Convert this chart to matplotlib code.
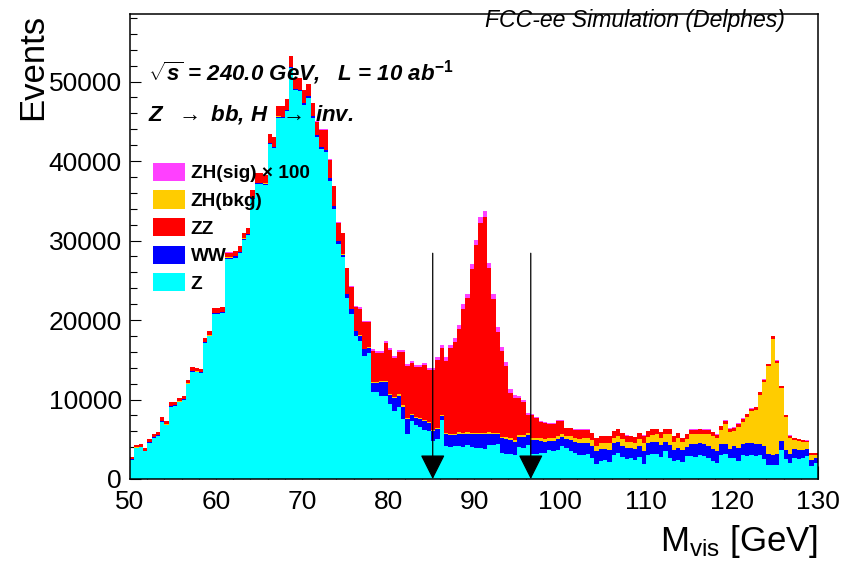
import numpy as np
import matplotlib
matplotlib.use("Agg")
import matplotlib.pyplot as plt
from matplotlib.patches import FancyArrowPatch, Patch
from matplotlib.ticker import MultipleLocator

plt.rcParams['font.family'] = ['Liberation Sans', 'DejaVu Sans']
plt.rcParams['mathtext.fontset'] = 'custom'
plt.rcParams['mathtext.rm'] = 'Liberation Sans:bold'
plt.rcParams['mathtext.it'] = 'Liberation Sans:italic:bold'
plt.rcParams['mathtext.bf'] = 'Liberation Sans:bold'
plt.rcParams['mathtext.sf'] = 'Liberation Sans'

# ---------------- data (0.5 GeV bins from 50 to 130 GeV) ----------------
bin_lo, bin_hi, bin_w = 50.0, 130.0, 0.5

z_bkg = [
    2420, 3870, 3970, 3470, 4550, 5220, 5420, 7220, 6770, 9120,
    9170, 9670, 9950, 11920, 13470, 13420, 13320, 17170, 17970, 20820,
    20750, 20850, 27700, 27700, 27850, 28400, 30100, 30650, 35200, 37100,
    37100, 37000, 42100, 41600, 45450, 45400, 46300, 51700, 48900, 48800,
    47080, 47880, 45380, 42980, 41480, 41080, 37480, 33980, 29580, 27880,
    22810, 20790, 18000, 17400, 15500, 15800, 10900, 10900, 10500, 10400,
    9400, 8600, 9000, 7500, 5600, 7300, 6800, 6500, 6200, 6000,
    4800, 5000, 7400, 4100, 4000, 4100, 4200, 4000, 4300, 4000,
    3900, 3900, 3800, 4300, 4300, 4400, 3300, 3200, 3100, 3000,
    4000, 3900, 4300, 3100, 3200, 3300, 3300, 3700, 3500, 3600,
    4100, 3900, 3500, 3300, 3000, 3000, 3100, 2700, 1900, 2300,
    2400, 2200, 3000, 3300, 2800, 2500, 2600, 2400, 2800, 1900,
    3000, 3100, 3200, 2800, 3500, 2700, 2300, 2400, 2100, 2900,
    2900, 2800, 3000, 2900, 2700, 2300, 2000, 3000, 3100, 2600,
    2700, 2300, 3000, 2900, 3000, 2900, 3000, 2500, 1800, 1700,
    1800, 3700, 2500, 2000, 2700, 2500, 2600, 2900, 1600, 2000,
]

ww_bkg = [
    80, 80, 80, 80, 80, 80, 80, 80, 80, 80,
    80, 80, 80, 80, 80, 80, 80, 80, 80, 80,
    150, 150, 150, 150, 150, 150, 150, 150, 150, 150,
    150, 150, 150, 150, 150, 150, 150, 150, 150, 150,
    250, 250, 250, 250, 250, 250, 350, 350, 350, 350,
    450, 550, 600, 650, 800, 700, 1200, 1200, 1700, 1800,
    1200, 1600, 1500, 1600, 1900, 700, 900, 1000, 1100, 1000,
    1200, 1300, 500, 1500, 1500, 1400, 1500, 1600, 1400, 1600,
    1700, 1700, 1800, 1400, 1300, 1200, 1800, 1800, 1800, 1700,
    1300, 1400, 1200, 1800, 1700, 1500, 1400, 1100, 1300, 1400,
    1200, 1100, 1400, 1300, 1500, 1500, 1400, 1500, 1600, 1500,
    1400, 1500, 1500, 1400, 1400, 1400, 1300, 1400, 1300, 1600,
    1500, 1500, 1500, 1500, 1100, 1600, 1400, 1500, 1500, 1100,
    1500, 1600, 1500, 1500, 1500, 1500, 1500, 1400, 1300, 1200,
    1500, 1600, 1400, 1600, 1500, 1500, 1400, 1600, 1400, 1300,
    1300, 1100, 1100, 1100, 1100, 1200, 1100, 900, 800, 600,
]

zh_bkg = [
    30, 30, 30, 30, 30, 30, 30, 30, 30, 30,
    30, 30, 30, 30, 30, 30, 30, 30, 30, 30,
    30, 30, 30, 30, 30, 30, 30, 30, 30, 30,
    30, 30, 30, 30, 30, 30, 30, 30, 30, 30,
    30, 30, 30, 30, 30, 30, 30, 30, 30, 30,
    40, 40, 50, 50, 60, 60, 150, 150, 150, 150,
    150, 150, 150, 150, 150, 150, 150, 150, 150, 150,
    150, 150, 150, 150, 150, 200, 200, 200, 200, 200,
    200, 200, 200, 200, 200, 200, 200, 250, 250, 250,
    250, 250, 250, 250, 300, 300, 300, 300, 350, 350,
    400, 400, 450, 500, 550, 600, 650, 700, 700, 750,
    750, 800, 700, 750, 800, 800, 750, 750, 900, 1000,
    800, 900, 900, 900, 1000, 1300, 1000, 1300, 1000, 1000,
    1200, 1200, 1200, 1300, 1500, 1600, 1600, 1800, 2500, 2100,
    1900, 2700, 2800, 3300, 4000, 4300, 6200, 8100, 11000, 14600,
    11500, 6600, 4150, 2100, 1100, 1050, 950, 800, 650, 450,
]

zz_bkg = [
    250, 300, 300, 300, 320, 350, 350, 450, 400, 450,
    400, 400, 420, 450, 500, 450, 450, 500, 500, 550,
    550, 550, 600, 600, 650, 700, 700, 750, 1000, 1200,
    1200, 1100, 1100, 1200, 1250, 1300, 1300, 1300, 1400, 1500,
    1600, 1500, 1600, 1700, 2200, 2600, 2300, 2500, 2300, 2700,
    3200, 2800, 3000, 3300, 3340, 3140, 3850, 3650, 3550, 4700,
    5500, 4900, 5300, 6700, 6600, 6500, 6200, 6400, 6850, 6550,
    7550, 8500, 8450, 9150, 10800, 11550, 13000, 15650, 16850, 20600,
    23650, 26400, 27200, 20650, 16900, 12750, 10750, 8950, 5700, 5250,
    4600, 4150, 2300, 2850, 2450, 2050, 2030, 1850, 1800, 1970,
    1620, 1000, 1050, 1110, 1160, 1120, 1070, 920, 970, 870,
    870, 920, 820, 870, 820, 770, 720, 720, 820, 970,
    720, 770, 720, 670, 720, 720, 670, 620, 570, 620,
    620, 620, 570, 520, 520, 470, 490, 440, 450, 440,
    370, 370, 400, 390, 360, 330, 360, 310, 280, 360,
    300, 270, 270, 270, 220, 220, 220, 220, 230, 230,
]

zh_sig_x100 = [
    20, 20, 20, 20, 20, 20, 20, 20, 20, 20,
    20, 20, 20, 20, 20, 20, 20, 20, 20, 20,
    20, 20, 20, 20, 20, 20, 20, 20, 20, 20,
    20, 20, 20, 20, 20, 20, 20, 20, 20, 20,
    40, 40, 40, 40, 40, 40, 40, 40, 40, 40,
    100, 120, 150, 200, 200, 200, 200, 200, 200, 250,
    250, 250, 250, 250, 250, 250, 250, 250, 300, 300,
    300, 350, 400, 400, 450, 450, 500, 550, 550, 600,
    650, 700, 700, 650, 600, 550, 550, 500, 450, 400,
    350, 300, 250, 200, 150, 150, 120, 100, 100, 80,
    80, 50, 50, 40, 40, 30, 30, 30, 30, 30,
    30, 30, 30, 30, 30, 30, 30, 30, 30, 30,
    30, 30, 30, 30, 30, 30, 30, 30, 30, 30,
    30, 30, 30, 30, 30, 30, 30, 30, 30, 30,
    30, 30, 30, 30, 30, 30, 30, 30, 30, 30,
    30, 30, 30, 30, 30, 30, 30, 30, 20, 20,
]

labels = ["ZH(sig) \u00d7 100", "ZH(bkg)", "ZZ", "WW", "Z"]
cut_values = [85.2, 96.6]
arrow_top = 28400
y_max = 58500

# ---------------- figure ----------------
W, H = 842, 564
fig = plt.figure(figsize=(W / 100, H / 100), dpi=100)
ax = fig.add_axes([130 / W, 1 - 479 / H, 688 / W, 465 / H])

edges = np.arange(bin_lo, bin_hi + bin_w / 2, bin_w)
col = {"Z": "#00ffff", "WW": "#0000ff", "ZHbkg": "#ffcc00",
       "ZZ": "#ff0000", "ZHsig": "#ff40ff"}
stack_order = [  # bottom -> top
    (np.array(z_bkg, float), col["Z"]),
    (np.array(ww_bkg, float), col["WW"]),
    (np.array(zh_bkg, float), col["ZHbkg"]),
    (np.array(zz_bkg, float), col["ZZ"]),
    (np.array(zh_sig_x100, float), col["ZHsig"]),
]
cums = np.cumsum([v for v, _ in stack_order], axis=0)
# draw from the top layer down so that lower layers overlay (no seams)
for k in range(len(stack_order) - 1, -1, -1):
    ax.stairs(cums[k], edges, baseline=0, fill=True,
              color=stack_order[k][1], lw=0, zorder=2)

# cut arrows
for c in cut_values:
    arr = FancyArrowPatch((c, arrow_top), (c, 0),
                          arrowstyle="-|>,head_length=15.5,head_width=7.8",
                          mutation_scale=1, lw=0.9, color="black",
                          shrinkA=0, shrinkB=0, zorder=4)
    ax.add_patch(arr)

ax.set_xlim(bin_lo, bin_hi)
ax.set_ylim(0, y_max)

ax.xaxis.set_major_locator(MultipleLocator(10))
ax.xaxis.set_minor_locator(MultipleLocator(2))
ax.yaxis.set_major_locator(MultipleLocator(10000))
ax.yaxis.set_minor_locator(MultipleLocator(2000))
ax.tick_params(axis="x", which="major", direction="in", length=9.5, width=0.8,
               labelsize=19, pad=8, top=False)
ax.tick_params(axis="x", which="minor", direction="in", length=5, width=0.8, top=False)
ax.tick_params(axis="y", which="major", direction="in", length=8, width=0.8,
               labelsize=19, pad=6, right=False)
ax.tick_params(axis="y", which="minor", direction="in", length=5, width=0.8, right=False)
for s in ax.spines.values():
    s.set_linewidth(1.1)
    s.set_zorder(5)

ax.set_xlabel(r"M$_{\mathsf{vis}}$ [GeV]", fontsize=25, ha="right", va="top")
ax.xaxis.set_label_coords(1.0, -0.095)
ax.set_ylabel("Events", fontsize=25, loc="top")
ax.yaxis.set_label_coords(-0.118, 1.0)

# texts
ax.text(0.952, 0.972, "FCC-ee Simulation (Delphes)", transform=ax.transAxes,
        fontsize=16.6, style="italic", ha="right", va="baseline", zorder=6)
ax.text(0.026, 0.858, r"$\sqrt{s}$ = 240.0 GeV,   L = 10 ab$^{\mathit{-1}}$",
        transform=ax.transAxes, fontsize=16, fontweight="bold", style="italic",
        ha="left", va="baseline", zorder=6)
ax.text(0.026, 0.772, r"Z  $\mathsf{\rightarrow}$ bb, H  $\mathsf{\rightarrow}$ inv.",
        transform=ax.transAxes, fontsize=16, fontweight="bold", style="italic",
        ha="left", va="baseline", zorder=6)

# legend (same order as the reference: sig, ZH bkg, ZZ, WW, Z)
legend_colors = [col["ZHsig"], col["ZHbkg"], col["ZZ"], col["WW"], col["Z"]]
handles = [Patch(facecolor=c, edgecolor="none") for c in legend_colors]
leg = ax.legend(handles, labels, loc="upper left", bbox_to_anchor=(0.033, 0.68),
                frameon=False, borderpad=0, borderaxespad=0,
                handlelength=1.68, handleheight=1.1, handletextpad=0.32,
                labelspacing=0.42, prop={"size": 13.7, "weight": "bold"})
leg.set_zorder(7)

fig.savefig("out.png", dpi=100)
